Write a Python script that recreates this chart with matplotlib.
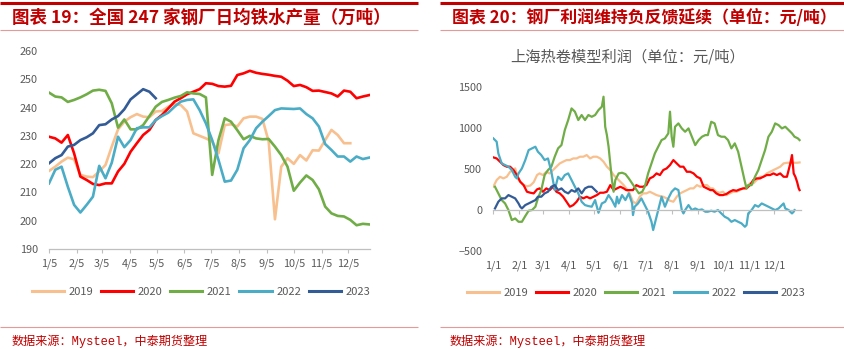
import numpy as np
import matplotlib
matplotlib.use('Agg')
import matplotlib.pyplot as plt
from matplotlib.lines import Line2D

plt.rcParams['font.family'] = ['Noto Sans CJK SC', 'DejaVu Sans']

# ---------------- data: left chart (weekly, 万吨) ----------------
years = ['2019', '2020', '2021', '2022', '2023']
colors = ['#F8C08E', '#FF0000', '#70AD47', '#4BACC6', '#335B96']

left_tick_days = [4, 35, 63, 94, 124, 155, 185, 216, 247, 277, 308, 338]
left_tick_labels = ['1/5', '2/5', '3/5', '4/5', '5/5', '6/5', '7/5', '8/5', '9/5', '10/5', '11/5', '12/5']

iron_2019 = [217.6, 219.1, 220.9, 222.3, 221.7, 216.2, 215.6, 215.4, 217.4, 219.7,
             226.2, 232.3, 235.0, 236.6, 237.7, 236.8, 236.6, 238.6, 238.8, 240.3,
             241.3, 240.9, 238.6, 230.9, 230.0, 229.1, 228.0, 223.8, 233.8, 234.1,
             233.3, 236.2, 236.8, 236.8, 236.0, 228.0, 200.5, 219.1, 222.1, 220.1,
             223.2, 221.3, 224.9, 224.8, 228.5, 232.1, 230.3, 227.4, 227.4]
iron_2020 = [229.7, 229.1, 227.6, 230.3, 223.8, 215.6, 214.4, 213.0, 212.6, 213.2,
             213.2, 217.4, 220.1, 224.4, 227.4, 230.3, 232.1, 235.6, 237.4, 239.7,
             242.1, 243.3, 244.7, 245.6, 246.5, 248.6, 248.4, 247.6, 247.4, 247.7,
             251.5, 252.1, 253.0, 252.3, 251.9, 251.6, 251.2, 250.9, 249.5, 247.6,
             248.0, 247.2, 245.9, 246.0, 245.5, 245.0, 243.9, 246.0, 245.6, 243.3,
             243.9, 244.4]
iron_2021 = [245.3, 243.9, 243.6, 242.0, 242.7, 243.6, 244.7, 246.0, 246.3, 245.9,
             241.5, 232.9, 235.8, 232.3, 232.3, 233.8, 237.0, 240.3, 242.0, 242.7,
             243.5, 244.1, 245.4, 245.0, 244.8, 243.6, 216.2, 228.5, 236.2, 235.0,
             232.0, 228.8, 230.0, 229.1, 228.8, 228.9, 226.2, 223.2, 219.1, 210.6,
             213.5, 216.0, 214.4, 211.1, 205.0, 202.6, 201.7, 201.5, 200.3, 198.4,
             198.9, 198.7]
iron_2022 = [213.2, 218.0, 219.1, 212.0, 205.6, 202.9, 205.6, 208.5, 219.4, 215.0,
             220.5, 229.7, 226.0, 228.5, 232.7, 233.0, 233.0, 235.6, 237.0, 238.2,
             240.3, 242.1, 242.7, 242.9, 239.1, 234.4, 228.5, 221.5, 213.8, 214.2,
             218.0, 225.6, 228.5, 232.7, 235.0, 237.0, 239.1, 239.7, 239.6, 239.5,
             239.7, 237.7, 236.2, 233.3, 227.1, 225.0, 222.7, 222.7, 220.9, 222.7,
             221.8, 222.3]
iron_2023 = [220.3, 222.1, 223.2, 226.2, 226.8, 228.5, 229.5, 230.9, 233.8, 234.1,
             235.8, 237.0, 239.4, 242.9, 244.7, 246.5, 245.6, 243.3]

# ---------------- data: right chart (元/吨) ----------------
right_tick_days = [0, 31, 59, 90, 120, 151, 181, 212, 243, 273, 304, 334]
right_tick_labels = ['1/1', '2/1', '3/1', '4/1', '5/1', '6/1', '7/1', '8/1', '9/1', '10/1', '11/1', '12/1']

days_2019 = [0, 4, 8, 12, 16, 20, 24, 26, 30, 36, 40, 44, 48, 52, 55, 59, 63, 67, 71, 75,
             79, 83, 87, 91, 95, 99, 103, 107, 111, 115, 119, 123, 127, 131, 135, 139, 143, 147, 151, 155,
             158, 162, 166, 170, 174, 178, 182, 186, 190, 194, 198, 202, 206, 210, 214, 218, 222, 226, 230, 234,
             238, 242, 246, 250, 254, 258, 261, 265, 269, 273, 277, 281, 285, 289, 293, 297, 301, 305, 309, 313,
             317, 321, 325, 329, 333, 337, 341, 345, 349, 353, 357, 361, 364]
prof_2019 = [285, 367, 407, 387, 407, 468, 489, 509, 367, 305, 290, 300, 340, 428, 448, 428, 468, 448, 489, 530,
             570, 591, 611, 611, 631, 631, 652, 652, 672, 631, 652, 652, 631, 591, 530, 489, 428, 387, 346, 305,
             265, 204, 102, 81, 163, 204, 204, 224, 204, 183, 171, 163, 143, 114, 102, 163, 204, 224, 244, 265,
             265, 305, 285, 305, 305, 265, 265, 224, 212, 224, 183, 204, 224, 224, 244, 265, 285, 326, 326, 367,
             407, 407, 448, 468, 489, 509, 530, 570, 578, 578, 578, 578, 582]

days_2020 = [0, 4, 8, 12, 16, 20, 24, 28, 32, 36, 40, 44, 48, 52, 55, 59, 63, 67, 71, 75,
             79, 83, 87, 91, 95, 99, 103, 107, 111, 115, 119, 123, 127, 131, 135, 139, 143, 147, 151, 155,
             158, 162, 166, 170, 174, 178, 182, 186, 190, 194, 198, 202, 206, 210, 214, 218, 222, 226, 230, 234,
             238, 242, 246, 250, 254, 258, 261, 265, 269, 273, 277, 281, 285, 289, 293, 297, 301, 305, 309, 313,
             317, 321, 325, 329, 333, 337, 341, 345, 349, 353, 355, 357, 359, 361, 363, 364]
prof_2020 = [644, 631, 591, 550, 530, 530, 489, 428, 346, 305, 224, 212, 204, 253, 265, 224, 265, 244, 285, 224,
             204, 163, 102, 41, 61, 102, 163, 143, 163, 143, 163, 183, 212, 212, 224, 305, 244, 265, 285, 265,
             244, 244, 244, 305, 285, 285, 305, 387, 407, 448, 428, 489, 509, 550, 611, 570, 530, 530, 468, 468,
             448, 407, 387, 285, 265, 244, 244, 204, 183, 183, 196, 224, 244, 236, 253, 265, 265, 305, 367, 387,
             387, 407, 428, 428, 448, 428, 448, 407, 407, 570, 672, 448, 407, 346, 265, 244]

days_2021 = [2, 6, 10, 14, 18, 22, 26, 30, 34, 38, 42, 46, 50, 53, 57, 61, 65, 69, 73, 77,
             81, 85, 89, 93, 97, 101, 105, 109, 113, 117, 121, 125, 129, 131, 133, 135, 137, 139, 141, 143,
             145, 149, 153, 157, 161, 165, 169, 173, 177, 180, 184, 188, 192, 196, 200, 204, 208, 210, 212, 214,
             216, 220, 224, 228, 232, 236, 240, 244, 248, 252, 255, 259, 263, 267, 271, 275, 279, 283, 287, 291,
             295, 299, 301, 303, 307, 311, 315, 319, 323, 327, 331, 335, 339, 343, 347, 351, 355, 358, 362, 364]
prof_2021 = [285, 204, 122, 81, 0, -122, -102, -143, -143, -73, -8, 0, 41, 143, 244, 428, 489, 530, 652, 754,
             794, 978, 1100, 1242, 1202, 1100, 1161, 1100, 1161, 1140, 1161, 1222, 1263, 1385, 1018, 916, 774, 570, 367, 224,
             367, 448, 456, 440, 387, 326, 265, 204, 224, 285, 448, 570, 692, 774, 855, 876, 937, 1202, 896, 774,
             1018, 1059, 998, 957, 998, 896, 794, 855, 896, 916, 916, 1079, 1059, 916, 896, 896, 855, 754, 815, 713,
             530, 346, 265, 305, 305, 407, 489, 611, 733, 896, 957, 1059, 1038, 998, 1018, 978, 937, 896, 876, 855]

days_2022 = [0, 4, 6, 10, 14, 18, 22, 26, 28, 30, 34, 38, 42, 46, 50, 53, 57, 61, 65, 69,
             73, 77, 81, 85, 89, 93, 97, 101, 105, 109, 113, 117, 121, 125, 129, 133, 137, 141, 145, 147,
             149, 153, 157, 161, 165, 166, 168, 172, 176, 180, 184, 188, 190, 192, 196, 200, 204, 208, 212, 216,
             220, 224, 226, 228, 232, 236, 240, 244, 248, 252, 255, 259, 263, 267, 271, 275, 279, 283, 287, 291,
             295, 299, 301, 303, 307, 311, 315, 319, 323, 327, 331, 335, 339, 343, 345, 347, 351, 355, 357, 358]
prof_2022 = [876, 835, 692, 570, 550, 530, 489, 407, 387, 448, 509, 611, 733, 754, 774, 713, 672, 611, 631, 468,
             244, 407, 367, 428, 448, 367, 285, 204, 102, 61, 49, 41, 122, -33, 81, 102, 183, 122, 41, 163,
             81, 183, 122, 204, 81, -61, 41, 81, 143, 61, -20, -143, -244, -163, 0, 163, 41, 143, 224, 265,
             244, 0, -41, 0, 61, 0, 20, 0, 8, -20, -20, -8, -20, 0, -41, -81, -102, -143, -122, -143,
             -163, -204, -183, -41, 0, 61, 41, 81, 61, 41, 20, 0, 20, 61, 81, 20, 0, -41, -20, 0]

days_2023 = [2, 4, 6, 10, 14, 18, 22, 26, 30, 32, 34, 38, 42, 46, 50, 53, 57, 61, 65, 69,
             73, 77, 81, 85, 89, 93, 97, 101, 105, 109, 113, 117, 121, 123]
prof_2023 = [20, 61, 102, 143, 143, 183, 163, 143, 81, 41, 20, 61, 81, 102, 122, 163, 163, 204, 224, 285,
             305, 244, 265, 224, 204, 244, 224, 265, 204, 265, 285, 285, 244, 224]

# ---------------- figure ----------------
W, H = 845, 349
fig = plt.figure(figsize=(W / 100, H / 100), dpi=100)


def fx(px):
    return px / W


def fy(py):
    return 1 - py / H


RED = '#C00000'
GRAY = '#595959'
AXC = '#BFBFBF'


def hline(x0, x1, y, color, lw):
    fig.add_artist(Line2D([fx(x0), fx(x1)], [fy(y), fy(y)], transform=fig.transFigure,
                          color=color, lw=lw, solid_capstyle='butt'))


# decorations
for (x0, x1) in [(0, 418), (440, 845)]:
    hline(x0, x1, 3, RED, 2.2)
    hline(x0, x1, 30, '#E59A9A', 0.8)
    hline(x0, x1, 327, '#E59A9A', 0.8)

fig.text(fx(12), fy(18), '图表 19：全国 247 家钢厂日均铁水产量（万吨）', ha='left', va='center',
         fontsize=12.6, fontweight='bold', color=RED)
fig.text(fx(452), fy(18), '图表 20：钢厂利润维持负反馈延续（单位：元/吨）', ha='left', va='center',
         fontsize=12.2, fontweight='bold', color=RED)
for x0 in (12, 450):
    fig.text(fx(x0), fy(341), '数据来源：Mysteel，中泰期货整理', ha='left', va='center',
             fontsize=8.7, color=RED, family=['Liberation Mono', 'Noto Sans CJK SC'])

# ---------------- left chart ----------------
ax1 = fig.add_axes([fx(49), fy(249), fx(370 - 49), (249 - 51) / H])
series_left = [iron_2019, iron_2020, iron_2021, iron_2022, iron_2023]
for vals, c, y in zip(series_left, colors, years):
    xd = 4 + 7 * np.arange(len(vals))
    ax1.plot(xd, vals, color=c, lw=1.9, label=y, solid_joinstyle='round')
ax1.set_xlim(4, 362)
ax1.set_ylim(190, 260)
ax1.set_yticks(np.arange(190, 261, 10))
ax1.set_xticks(left_tick_days)
ax1.set_xticklabels(left_tick_labels)
for s in ['top', 'right', 'left']:
    ax1.spines[s].set_visible(False)
ax1.spines['bottom'].set_color(AXC)
ax1.spines['bottom'].set_linewidth(0.9)
ax1.tick_params(axis='y', length=0, pad=8, labelsize=7.8, labelcolor=GRAY)
ax1.tick_params(axis='x', length=3, width=0.8, color=AXC, pad=4, labelsize=7.8, labelcolor=GRAY)
ax1.patch.set_alpha(0)

handles = [Line2D([], [], color=c, lw=2.2) for c in colors]
leg_kw = dict(loc='center', ncol=5, frameon=False, fontsize=8, handlelength=2.9,
              handletextpad=0.4, columnspacing=0.7, labelcolor=GRAY)
fig.legend(handles, years, bbox_to_anchor=(fx(201), fy(292)), **leg_kw)

# ---------------- right chart ----------------
ax2 = fig.add_axes([fx(493.3), fy(251), fx(801 - 493.3), (251 - 87.3) / H])
series_right = [(days_2019, prof_2019), (days_2020, prof_2020), (days_2021, prof_2021),
                (days_2022, prof_2022), (days_2023, prof_2023)]
for (d, v), c in zip(series_right, colors):
    ax2.plot(d, v, color=c, lw=1.6, solid_joinstyle='round')
ax2.set_xlim(0, 365.7)
ax2.set_ylim(-500, 1500)
ax2.set_yticks(np.arange(-500, 1501, 500))
ax2.set_xticks(right_tick_days)
ax2.set_xticklabels(right_tick_labels)
for s in ['top', 'right', 'left']:
    ax2.spines[s].set_visible(False)
ax2.spines['bottom'].set_position(('data', 0))
ax2.spines['bottom'].set_color(AXC)
ax2.spines['bottom'].set_linewidth(0.9)
ax2.tick_params(axis='y', length=0, pad=8, labelsize=7.8, labelcolor=GRAY)
ax2.tick_params(axis='x', length=3, width=0.8, color=AXC, pad=33, labelsize=7.8, labelcolor=GRAY)
ax2.patch.set_alpha(0)

fig.text(fx(628), fy(57), '上海热卷模型利润（单位：元/吨）', ha='center', va='center', fontsize=11, color=GRAY)
fig.legend(handles, years, bbox_to_anchor=(fx(636), fy(293)), **leg_kw)

fig.savefig('out.png', dpi=100)
